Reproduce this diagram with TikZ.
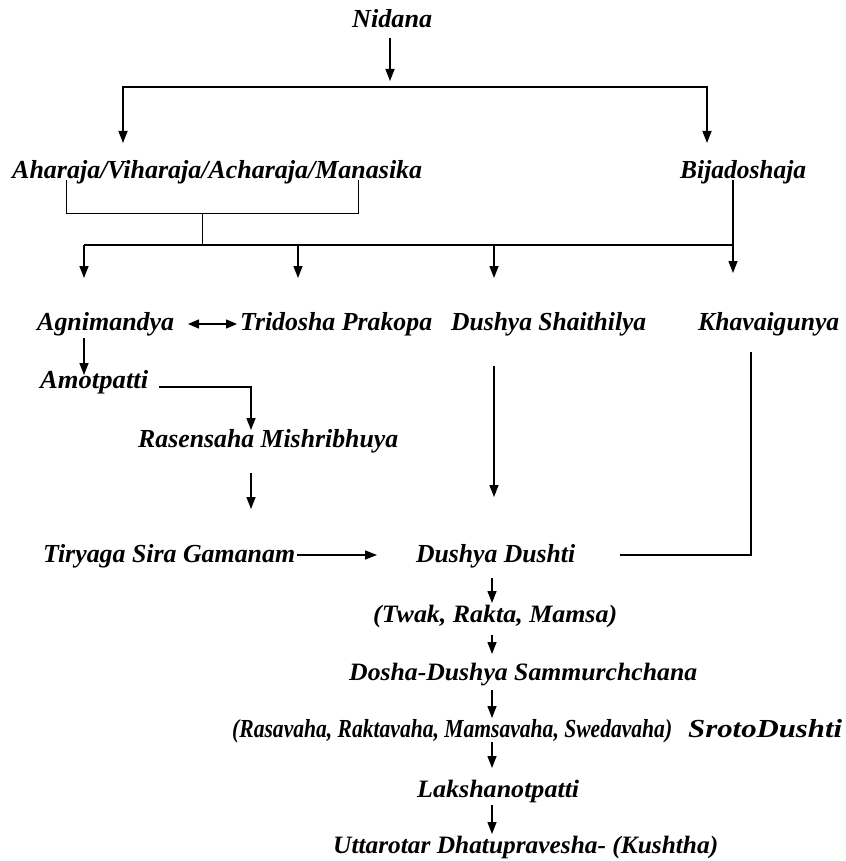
\documentclass[tikz,border=0pt]{standalone}
\usepackage{fontspec}
\usepackage{graphicx}
\setmainfont{Liberation Serif}
\usetikzlibrary{arrows.meta}
\newcommand\fitw[2]{\resizebox{#1pt}{\height}{#2}}
\begin{document}
\begin{tikzpicture}[x=1pt,y=-1pt,
  lbl/.style={inner sep=0pt,anchor=base west,font=\fontsize{26}{30}\selectfont\bfseries\itshape},
  blbl/.style={inner sep=0pt,anchor=base west,font=\fontsize{25}{29}\selectfont\bfseries\itshape},
  ln/.style={line width=1.4pt},
  thinln/.style={line width=0.9pt},
  tip/.style={},
  arr/.style={ln,-{Triangle[length=12pt,width=9pt]}},
  darr/.style={ln,{Triangle[length=11pt,width=9pt]}-{Triangle[length=11pt,width=9pt]}}]
\useasboundingbox (0,0) rectangle (845,861);
% texts
\node[lbl] (nid) at (352,28) {\fitw{80}{Nidana}};
\node[lbl] (aha) at (12,178) {\fitw{410}{Aharaja/Viharaja/Acharaja/Manasika}};
\node[lbl] (bij) at (680,178) {\fitw{126}{Bijadoshaja}};
\node[lbl] (agn) at (37,330) {\fitw{137}{Agnimandya}};
\node[lbl] (tri) at (240,330) {\fitw{192}{Tridosha Prakopa}};
\node[lbl] (dsh) at (451,330) {\fitw{195}{Dushya Shaithilya}};
\node[lbl] (kha) at (698,330) {\fitw{141}{Khavaigunya}};
\node[lbl] (amo) at (40,388) {\fitw{108}{Amotpatti}};
\node[lbl] (ras) at (138,447) {\fitw{260}{Rasensaha Mishribhuya}};
\node[lbl] (tir) at (43,562) {\fitw{252}{Tiryaga Sira Gamanam}};
\node[lbl] (dd) at (416,562) {\fitw{159}{Dushya Dushti}};
\node[blbl] (twak) at (373,622) {\fitw{244}{(Twak, Rakta, Mamsa)}};
\node[blbl] (dosha) at (349,680) {\fitw{348}{Dosha-Dushya Sammurchchana}};
\node[lbl] (rasa) at (232,737) {\fitw{440}{(Rasavaha, Raktavaha, Mamsavaha, Swedavaha)}};
\node[lbl] (sroto) at (688,737) {\fitw{154}{SrotoDushti}};
\node[blbl] (lak) at (417,797) {\fitw{162}{Lakshanotpatti}};
\node[blbl] (utt) at (333,853) {\fitw{385}{Uttarotar Dhatupravesha- (Kushtha)}};
% connector end points
\coordinate (n1) at (390,38); \coordinate (n2) at (390,81);
\coordinate (s1) at (123,143); \coordinate (s2) at (123,87);
\coordinate (s3) at (707,87); \coordinate (s4) at (707,143);
\coordinate (b1) at (66,180); \coordinate (b2) at (66,213);
\coordinate (b3) at (358,213); \coordinate (b4) at (358,180);
\coordinate (m1) at (202,213); \coordinate (m2) at (202,245);
\coordinate (h1) at (84,245); \coordinate (h2) at (733,245);
\coordinate (bj1) at (733,180); \coordinate (bj2) at (733,273);
\coordinate (d1) at (84,278); \coordinate (d2) at (298,245); \coordinate (d3) at (298,278);
\coordinate (d4) at (494,245); \coordinate (d5) at (494,278);
\coordinate (e1) at (188,324); \coordinate (e2) at (237,324);
\coordinate (g1) at (84,338); \coordinate (g2) at (84,375);
\coordinate (a1) at (159,387); \coordinate (a2) at (251,387); \coordinate (a3) at (251,430);
\coordinate (r1) at (251,473); \coordinate (r2) at (251,509);
\coordinate (q1) at (494,366); \coordinate (q2) at (494,497);
\coordinate (k1) at (751,352); \coordinate (k2) at (751,555); \coordinate (k3) at (620,555);
\coordinate (t1) at (297,555); \coordinate (t2) at (377,555);
\coordinate (c1) at (492,578); \coordinate (c2) at (492,603);
\coordinate (c3) at (492,635); \coordinate (c4) at (492,654);
\coordinate (c5) at (492,690); \coordinate (c6) at (492,718);
\coordinate (c7) at (492,742); \coordinate (c8) at (492,768);
\coordinate (c9) at (492,805); \coordinate (c10) at (492,834);
% connectors
\draw[arr] (n1) -- (n2);
\draw[ln,{Triangle[length=12pt,width=9pt]}-{Triangle[length=12pt,width=9pt]}] (s1) -- (s2) -- (s3) -- (s4);
\draw[thinln] (b1) -- (b2) -- (b3) -- (b4);
\draw[thinln] (m1) -- (m2);
\draw[ln] (h1) -- (h2);
\draw[arr] (bj1) -- (bj2);
\draw[arr] (h1) -- (d1);
\draw[arr] (d2) -- (d3);
\draw[arr] (d4) -- (d5);
\draw[darr] (e1) -- (e2);
\draw[arr] (g1) -- (g2);
\draw[arr] (a1) -- (a2) -- (a3);
\draw[arr] (r1) -- (r2);
\draw[arr] (q1) -- (q2);
\draw[ln] (k1) -- (k2) -- (k3);
\draw[arr] (t1) -- (t2);
\draw[arr] (c1) -- (c2);
\draw[arr] (c3) -- (c4);
\draw[arr] (c5) -- (c6);
\draw[arr] (c7) -- (c8);
\draw[arr] (c9) -- (c10);
\end{tikzpicture}
\end{document}
